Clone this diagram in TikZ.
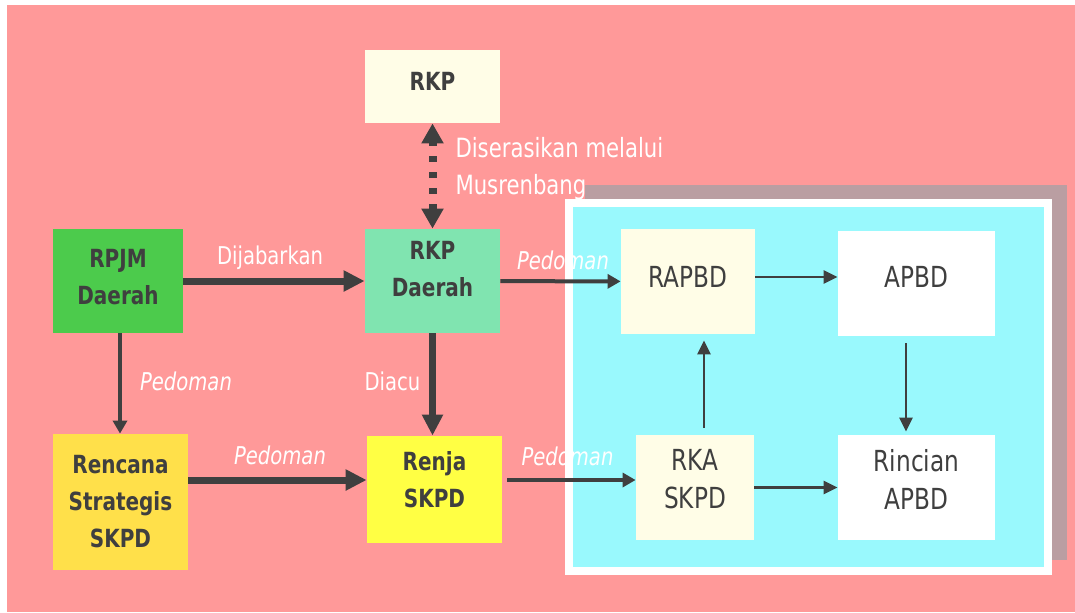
\documentclass[tikz,border=0pt]{standalone}
\usepackage{fontspec}
\setmainfont{DejaVu Sans}[FakeStretch=0.8]
\usepackage{tikz}
\usetikzlibrary{arrows.meta}
\definecolor{figpink}{HTML}{FF9999}
\definecolor{figshade}{HTML}{BA9EA2}
\definecolor{figcyan}{HTML}{99F9FD}
\definecolor{figcream}{HTML}{FFFDE7}
\definecolor{figmint}{HTML}{80E4B0}
\definecolor{figgreen}{HTML}{4CCB4C}
\definecolor{figgold}{HTML}{FFE04A}
\definecolor{figyellow}{HTML}{FFFF44}
\definecolor{figtext}{HTML}{3F3F3F}
\tikzset{
  box/.style={rectangle, inner sep=0pt},
  boldtxt/.style={font=\fontsize{12.5}{18.5}\selectfont\bfseries, align=center, text=figtext, inner sep=0pt},
  paneltxt/.style={font=\fontsize{14.5}{19}\selectfont, align=center, text=figtext, inner sep=0pt},
  lbl/.style={font=\fontsize{12.25}{15}\selectfont, text=white, inner sep=0pt},
  pedo/.style={lbl, font=\fontsize{12.25}{15}\selectfont\itshape},
  bigarr/.style={draw=figtext, line width=3.5pt, -{Triangle[length=10.5pt,width=10pt]}},
  midarr/.style={draw=figtext, line width=2pt, -{Triangle[length=6.5pt,width=7pt]}},
  panelarr/.style={draw=figtext, line width=1.4pt, -{Triangle[length=7pt,width=6.5pt]}},
  dotarr/.style={draw=figtext, line width=4pt, dash pattern=on 3pt off 5pt, dash phase=1pt,
    {Triangle[length=10pt,width=10.5pt]}-{Triangle[length=10pt,width=10.5pt]}}
}
\begin{document}
\begin{tikzpicture}[x=0.5pt,y=-0.5pt]
  \useasboundingbox (0,0) rectangle (1075,612);
  \fill[white] (0,0) rectangle (1075,612);
  \fill[figpink] (7,5) rectangle (1075,612);
  % left part
  \node[box, fill=figcream, minimum width=67.5pt, minimum height=36.5pt,
    label={[boldtxt,yshift=2.75pt]center:RKP}] (rkp) at (432.5,86.5) {};
  \node[box, fill=figmint, minimum width=67.5pt, minimum height=52pt,
    label={[boldtxt,yshift=6pt]center:RKP\\Daerah}] (rkpd) at (432.5,281) {};
  \node[box, fill=figgreen, minimum width=65pt, minimum height=52pt,
    label={[boldtxt,yshift=2pt]center:RPJM\\Daerah}] (rpjm) at (118,281) {};
  \node[box, fill=figgold, minimum width=67.5pt, minimum height=68pt,
    label={[boldtxt]center:Rencana\\Strategis\\SKPD}] (renstra) at (120.5,502) {};
  \node[box, fill=figyellow, minimum width=67.5pt, minimum height=53.5pt,
    label={[boldtxt,yshift=4.75pt]center:Renja\\SKPD}] (renja) at (434.5,489.5) {};
  \draw[dotarr] (rkp) -- node[lbl, font=\fontsize{13.25}{18.5}\selectfont, align=left,
    anchor=west, xshift=9.5pt, yshift=3.75pt] (diser) {Diserasikan melalui\\Musrenbang} (rkpd);
  % panel
  \fill[figshade] (585,185) rectangle (1067,560);
  \filldraw[fill=figcyan, draw=white, line width=4pt] (569,203) rectangle (1047.5,570.5);
  \node[box, fill=figcream, minimum width=67pt, minimum height=52.5pt,
    label={[paneltxt,yshift=2.25pt]center:RAPBD}] (rapbd) at (688,281.5) {};
  \node[box, fill=white, minimum width=78.5pt, minimum height=52.5pt,
    label={[paneltxt,yshift=3.25pt]center:APBD}] (apbd) at (916.5,283.5) {};
  \node[box, fill=figcream, minimum width=59pt, minimum height=52.5pt,
    label={[paneltxt,yshift=4.25pt]center:RKA\\SKPD}] (rka) at (695,487.5) {};
  \node[box, fill=white, minimum width=78.5pt, minimum height=52.5pt,
    label={[paneltxt,yshift=4.25pt]center:Rincian\\APBD}] (rincian) at (916.5,487.5) {};
  % connectors
  \draw[bigarr] (rpjm) -- node[lbl, xshift=-2pt, yshift=11.5pt] (lbdij) {Dijabarkan} (rkpd);
  \draw[bigarr] ([yshift=11pt]renstra.east) -- node[pedo, xshift=1.25pt, yshift=12.5pt] (lbped2) {Pedoman}
    ([yshift=4.75pt]renja.west);
  \draw[bigarr] (rkpd.south) -- node[lbl, xshift=-20pt, yshift=1.75pt] (lbdiacu) {Diacu}
    (rkpd.south |- renja.north);
  \draw[midarr] ([xshift=1pt]rpjm.south) -- node[pedo, xshift=33pt, yshift=1.25pt] (lbped1) {Pedoman}
    ([xshift=1pt]rpjm.south |- renstra.north);
  \draw[midarr] (rkpd) -- node[pedo, xshift=1.25pt, yshift=10.5pt] (lbped3) {Pedoman} (rapbd);
  \draw[midarr, shorten <=2.5pt] ([yshift=4.75pt]renja.east) -- node[pedo, xshift=-0.75pt, yshift=12pt] (lbped4) {Pedoman}
    ([yshift=3.75pt]rka.west);
  \draw[panelarr] ([yshift=2.25pt]rapbd.east) -- ([yshift=3.25pt]apbd.west);
  \draw[panelarr] (rka) -- (rincian);
  \draw[panelarr, shorten <=3.5pt, shorten >=3pt] ([xshift=4.5pt]rka.north) -- ([xshift=4.5pt]rka.north |- rapbd.south);
  \draw[panelarr, shorten <=3.5pt, shorten >=1.5pt] ([xshift=-5.25pt]apbd.south) -- ([xshift=-5.25pt]apbd.south |- rincian.north);
\end{tikzpicture}
\end{document}
